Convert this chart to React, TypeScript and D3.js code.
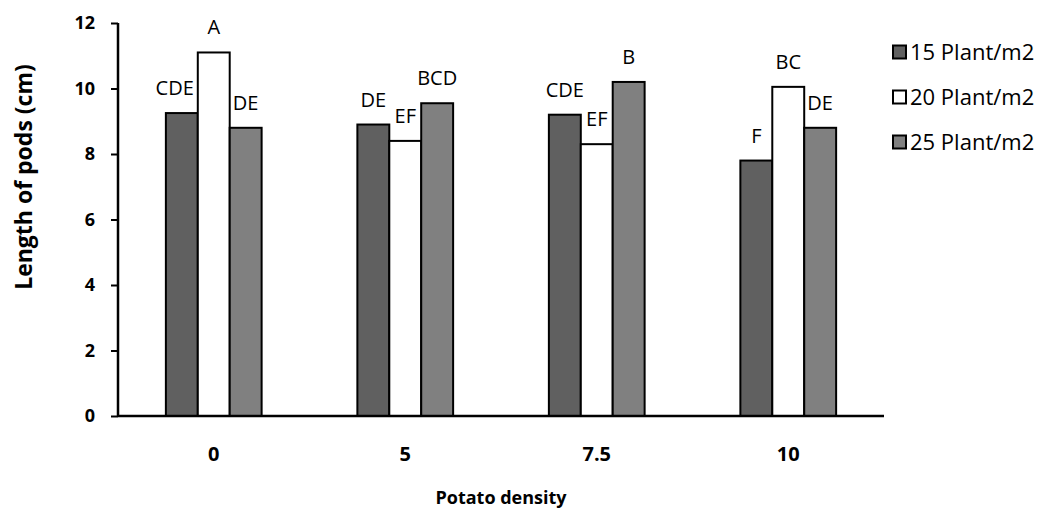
import React, { useEffect, useRef } from "react";
import * as d3 from "d3";

const categories = ["0", "5", "7.5", "10"];
const seriesNames = ["15 Plant/m2", "20 Plant/m2", "25 Plant/m2"];
const plant15 = [9.25, 8.9, 9.2, 7.8];
const plant20 = [11.1, 8.4, 8.3, 10.05];
const plant25 = [8.8, 9.55, 10.2, 8.8];
const letters15 = ["CDE", "DE", "CDE", "F"];
const letters20 = ["A", "EF", "EF", "BC"];
const letters25 = ["DE", "BCD", "B", "DE"];
const yTicks = [0, 2, 4, 6, 8, 10, 12];

const colors = ["#606060", "#ffffff", "#808080"];
const font = "'Open Sans', sans-serif";

const App = () => {
  const ref = useRef<SVGSVGElement>(null);

  useEffect(() => {
    const svg = d3.select(ref.current);
    svg.selectAll("*").remove();

    const values = [plant15, plant20, plant25];
    const letters = [letters15, letters20, letters25];

    const left = 118;
    const right = 884;
    const top = 23;
    const bottom = 416;

    const x = d3.scaleBand().domain(categories).range([left, right]).padding(0);
    const groupW = x.bandwidth() * 0.5;
    const xs = d3
      .scaleBand()
      .domain(seriesNames)
      .range([-groupW / 2, groupW / 2])
      .padding(0);
    const y = d3.scaleLinear().domain([0, 12]).range([bottom, top]);

    const rows = categories.flatMap((c, i) =>
      seriesNames.map((s, j) => ({
        c,
        s,
        j,
        v: values[j][i],
        next: j < seriesNames.length - 1 ? values[j + 1][i] : null,
        label: letters[j][i],
      }))
    );

    const g = svg.append("g");

    g.selectAll("rect.bar")
      .data(rows)
      .join("rect")
      .attr("class", "bar")
      .attr("x", (d) => x(d.c)! + x.bandwidth() / 2 + xs(d.s)!)
      .attr("y", (d) => y(d.v))
      .attr("width", xs.bandwidth())
      .attr("height", (d) => y(0) - y(d.v))
      .attr("fill", (d) => colors[d.j])
      .attr("stroke", "#000")
      .attr("stroke-width", 2);

    const labels = g
      .selectAll("text.lbl")
      .data(rows)
      .join("text")
      .attr("class", "lbl")
      .attr("x", (d) => x(d.c)! + x.bandwidth() / 2 + xs(d.s)! + xs.bandwidth() / 2)
      .attr("y", (d) => y(d.v) - 18)
      .attr("text-anchor", "middle")
      .attr("font-family", font)
      .attr("font-size", 20)
      .attr("fill", "#000")
      .text((d) => d.label);

    // nudge a label left when it would run into a taller bar next to it
    labels.each(function (d) {
      const el = this as SVGTextElement;
      const w = el.getComputedTextLength();
      const barRight = x(d.c)! + x.bandwidth() / 2 + xs(d.s)! + xs.bandwidth();
      const cx = barRight - xs.bandwidth() / 2;
      if (d.next !== null && d.next > d.v && cx + w / 2 > barRight - 3) {
        d3.select(el).attr("x", barRight - 4 - w / 2);
      }
    });

    // y axis
    const yAxis = svg
      .append("g")
      .attr("transform", `translate(${left},0)`)
      .call(d3.axisLeft(y).tickValues(yTicks).tickSize(7).tickPadding(16));
    yAxis.select(".domain").attr("stroke", "#000").attr("stroke-width", 2.5).attr("d", `M0,${top}V${bottom}`);
    yAxis.selectAll(".tick line").attr("stroke", "#000").attr("stroke-width", 2);
    yAxis
      .selectAll(".tick text")
      .attr("font-family", font)
      .attr("font-weight", "bold")
      .attr("font-size", 18)
      .attr("fill", "#000");

    // x axis
    const xAxis = svg
      .append("g")
      .attr("transform", `translate(0,${bottom})`)
      .call(d3.axisBottom(x).tickSize(0).tickPadding(31));
    xAxis.select(".domain").attr("stroke", "#000").attr("stroke-width", 2.5).attr("d", `M${left},0H${right}`);
    xAxis
      .selectAll(".tick text")
      .attr("font-family", font)
      .attr("font-weight", "bold")
      .attr("font-size", 20)
      .attr("fill", "#000");

    svg
      .append("text")
      .attr("x", (left + right) / 2)
      .attr("y", 504)
      .attr("text-anchor", "middle")
      .attr("font-family", font)
      .attr("font-weight", "bold")
      .attr("font-size", 18)
      .text("Potato density");

    svg
      .append("text")
      .attr("transform", `translate(32,177) rotate(-90)`)
      .attr("text-anchor", "middle")
      .attr("font-family", font)
      .attr("font-weight", "bold")
      .attr("font-size", 23)
      .text("Length of pods (cm)");

    // legend
    const legend = svg
      .selectAll("g.leg")
      .data(seriesNames)
      .join("g")
      .attr("class", "leg")
      .attr("transform", (d, i) => `translate(893,${52 + i * 45})`);
    legend
      .append("rect")
      .attr("x", 0)
      .attr("y", -6.5)
      .attr("width", 13)
      .attr("height", 13)
      .attr("fill", (d, i) => colors[i])
      .attr("stroke", "#000")
      .attr("stroke-width", 2);
    legend
      .append("text")
      .attr("x", 17)
      .attr("y", 0)
      .attr("dy", "0.35em")
      .attr("font-family", font)
      .attr("font-size", 22)
      .text((d) => d);
  }, []);

  return (
    <div>
      <svg ref={ref} width={1039} height={511} style={{ position: "absolute", left: 0, top: 0 }} />
    </div>
  );
};

export default App;
